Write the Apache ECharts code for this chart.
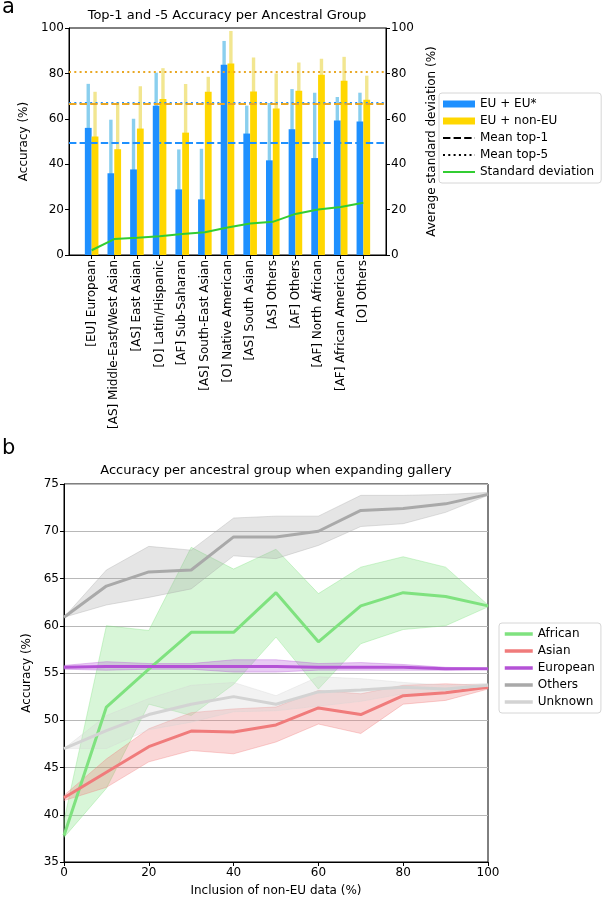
<!DOCTYPE html>
<html>
<head>
<meta charset="utf-8">
<script src="https://cdn.jsdelivr.net/npm/echarts@6/dist/echarts.min.js"></script>
<style>html,body{margin:0;padding:0;background:#fff}#c{width:609px;height:900px}</style>
</head>
<body>
<div id="c"></div>
<script>
// ---------- Panel a data ----------
const categories = ['[EU] European','[AS] Middle-East/West Asian','[AS] East Asian','[O] Latin/Hispanic','[AF] Sub-Saharan','[AS] South-East Asian','[O] Native American','[AS] South Asian','[AS] Others','[AF] Others','[AF] North African','[AF] African American','[O] Others'];
const euTop1 = [56.0, 36.0, 37.7, 65.8, 28.9, 24.5, 83.8, 53.5, 41.7, 55.4, 42.7, 59.2, 58.8];
const euTop5 = [75.4, 59.6, 60.0, 80.3, 46.5, 46.8, 94.3, 65.8, 67.0, 73.1, 71.5, 69.6, 71.5];
const nonEuTop1 = [52.2, 46.6, 55.7, 68.7, 53.9, 71.9, 84.4, 72.0, 64.5, 72.4, 79.4, 76.8, 68.4];
const nonEuTop5 = [71.9, 67.3, 74.3, 82.3, 75.3, 78.5, 98.7, 87.0, 80.0, 84.8, 86.4, 87.3, 79.0];
const stdDev = [2.1, 7.0, 7.6, 8.3, 9.2, 10.0, 12.1, 13.9, 14.6, 18.1, 20.0, 21.1, 23.0];
const meanTop1 = [49.6, 66.6]; // [EU + EU*, EU + non-EU]
const meanTop5 = [67.2, 80.9];

// ---------- Panel b data ----------
const inclusion = [0, 10, 20, 30, 40, 50, 60, 70, 80, 90, 100];
const african   = [37.8, 51.4, 55.4, 59.3, 59.3, 63.5, 58.3, 62.1, 63.5, 63.1, 62.1];
const africanLo = [37.6, 42.8, 51.7, 50.5, 53.8, 58.8, 53.3, 58.1, 59.6, 60.0, 62.0];
const africanHi = [39.4, 60.0, 59.5, 68.3, 66.0, 68.1, 63.4, 66.2, 67.3, 66.2, 62.2];
const asian   = [41.8, 44.5, 47.2, 48.85, 48.75, 49.5, 51.3, 50.6, 52.6, 52.9, 53.5];
const asianLo = [41.5, 42.9, 45.6, 46.8, 46.45, 47.7, 49.6, 48.6, 51.7, 52.1, 53.3];
const asianHi = [42.05, 45.9, 49.1, 50.8, 51.2, 51.4, 53.15, 52.8, 53.7, 53.85, 53.7];
const european   = [55.6, 55.7, 55.7, 55.7, 55.7, 55.7, 55.6, 55.6, 55.6, 55.45, 55.45];
const europeanLo = [55.4, 55.3, 55.4, 55.4, 55.1, 55.1, 55.3, 55.3, 55.3, 55.3, 55.4];
const europeanHi = [55.8, 56.2, 56.0, 56.0, 56.4, 56.4, 56.0, 56.1, 55.9, 55.6, 55.5];
const others   = [60.9, 64.2, 65.7, 65.9, 69.4, 69.4, 70.0, 72.2, 72.4, 72.9, 73.9];
const othersLo = [60.9, 62.2, 63.0, 63.9, 67.4, 67.1, 68.5, 70.5, 70.8, 72.0, 73.8];
const othersHi = [60.9, 65.9, 68.4, 68.0, 71.4, 71.6, 71.6, 73.8, 73.8, 73.9, 74.1];
const unknown   = [47.0, 48.9, 50.6, 51.7, 52.5, 51.7, 53.0, 53.2, 53.5, 53.3, 53.7];
const unknownLo = [47.0, 47.0, 49.0, 49.8, 50.9, 51.0, 51.5, 52.0, 52.8, 52.9, 53.5];
const unknownHi = [47.0, 50.5, 52.3, 53.7, 54.0, 52.6, 54.6, 54.4, 54.0, 53.7, 53.9];

const FONT = 'DejaVu Sans';
const catIdx = categories.map((_, i) => i);

function rgba(hex, a) {
  const n = parseInt(hex.slice(1), 16);
  return 'rgba(' + ((n >> 16) & 255) + ',' + ((n >> 8) & 255) + ',' + (n & 255) + ',' + a + ')';
}

function barRender(side, dark, light) {
  return function (params, api) {
    const x = api.value(0);
    const p1 = api.coord([x, api.value(1)]);
    const p5 = api.coord([x, api.value(2)]);
    const p0 = api.coord([x, 0]);
    const band = api.size([1, 0])[0];
    const wDark = band * 0.3, wLight = band * 0.15;
    const cx = p0[0] + side * band * 0.15;
    return {
      type: 'group',
      children: [
        { type: 'rect', shape: { x: cx - wLight / 2, y: p5[1], width: wLight, height: p0[1] - p5[1] }, style: { fill: light } },
        { type: 'rect', shape: { x: cx - wDark / 2, y: p1[1], width: wDark, height: p0[1] - p1[1] }, style: { fill: dark } }
      ]
    };
  };
}

function bandRender(color) {
  let pts = [];
  return function (params, api) {
    if (params.dataIndexInside === 0) pts = [];
    const x = api.value(0);
    pts.push({ lo: api.coord([x, api.value(1)]), hi: api.coord([x, api.value(2)]) });
    if (params.dataIndexInside !== params.dataInsideLength - 1) return null;
    const poly = pts.map(p => p.hi).concat(pts.map(p => p.lo).reverse());
    return { type: 'polygon', shape: { points: poly },
      style: { fill: rgba(color, 0.3), stroke: rgba(color, 0.35), lineWidth: 1 } };
  };
}

const DASH = [7.4, 3.2], DOT = [2, 3.3];
const ORANGE = '#E9A825', BLUE = '#1E90FF';

const groupsB = [
  ['African', african, africanLo, africanHi, '#7FE27F'],
  ['Asian', asian, asianLo, asianHi, '#F07B7B'],
  ['European', european, europeanLo, europeanHi, '#B452D6'],
  ['Others', others, othersLo, othersHi, '#A9A9A9'],
  ['Unknown', unknown, unknownLo, unknownHi, '#D3D3D3']
];
const seriesB = [];
groupsB.forEach(g => {
  seriesB.push({ type: 'custom', name: g[0] + ' band', xAxisIndex: 1, yAxisIndex: 2, silent: true,
    renderItem: bandRender(g[4]), encode: { x: 0, y: [1, 2] },
    data: inclusion.map((x, i) => [x, g[2][i], g[3][i]]) });
  seriesB.push({ type: 'line', name: g[0], xAxisIndex: 1, yAxisIndex: 2, symbol: 'none',
    data: inclusion.map((x, i) => [x, g[1][i]]), lineStyle: { width: 3, color: g[4] }, itemStyle: { color: g[4] } });
});

const axisCommon = {
  axisLine: { show: true, onZero: false, lineStyle: { color: '#000', width: 1 } },
  axisTick: { show: true, inside: false, length: 4, lineStyle: { color: '#000' } },
  axisLabel: { color: '#000', fontSize: 12, fontFamily: FONT, margin: 5 },
  nameTextStyle: { color: '#000', fontSize: 12, fontFamily: FONT }
};
const noSym = { opacity: 0 };

const option = {
  animation: false,
  backgroundColor: '#fff',
  textStyle: { fontFamily: FONT },
  title: [
    { text: 'a', left: 2, top: -3, padding: 0, textStyle: { fontSize: 21, fontWeight: 'normal', color: '#000', fontFamily: FONT } },
    { text: 'Top-1 and -5 Accuracy per Ancestral Group', left: 227, textAlign: 'center', top: 9, padding: 0,
      textStyle: { fontSize: 13, fontWeight: 'normal', color: '#000', fontFamily: FONT } },
    { text: 'b', left: 2, top: 438, padding: 0, textStyle: { fontSize: 21, fontWeight: 'normal', color: '#000', fontFamily: FONT } },
    { text: 'Accuracy per ancestral group when expanding gallery', left: 276, textAlign: 'center', top: 464, padding: 0,
      textStyle: { fontSize: 13, fontWeight: 'normal', color: '#000', fontFamily: FONT } }
  ],
  legend: [
    { orient: 'vertical', left: 439, top: 93, itemWidth: 32, itemHeight: 7, itemGap: 5,
      padding: [5, 7, 5, 3], borderColor: '#d6d6d6', borderWidth: 1, borderRadius: 3, backgroundColor: '#fff',
      textStyle: { fontSize: 12, color: '#000', fontFamily: FONT },
      data: [{ name: 'EU + EU*', icon: 'rect' }, { name: 'EU + non-EU', icon: 'rect' },
             { name: 'Mean top-1', itemStyle: noSym }, { name: 'Mean top-5', itemStyle: noSym },
             { name: 'Standard deviation', itemStyle: noSym }] },
    { orient: 'vertical', left: 499, top: 623, itemWidth: 28, itemHeight: 10, itemGap: 5,
      padding: [5, 6, 5, 4], borderColor: '#d6d6d6', borderWidth: 1, borderRadius: 3, backgroundColor: '#fff',
      textStyle: { fontSize: 12, color: '#000', fontFamily: FONT },
      lineStyle: { width: 3.5 },
      data: groupsB.map(g => ({ name: g[0], itemStyle: noSym })) }
  ],
  grid: [
    { left: 69, width: 317, top: 28, height: 227, show: true, borderColor: '#000', borderWidth: 1, backgroundColor: 'transparent' },
    { left: 64, width: 424, top: 484, height: 378, show: true, borderColor: '#000', borderWidth: 1, backgroundColor: 'transparent' }
  ],
  xAxis: [
    Object.assign({}, axisCommon, {
      type: 'value', gridIndex: 0, min: -1, max: 13, splitLine: { show: false },
      axisTick: Object.assign({}, axisCommon.axisTick, { customValues: catIdx }),
      axisLabel: Object.assign({}, axisCommon.axisLabel, { rotate: 90, customValues: catIdx, formatter: v => categories[Math.round(v)] || '' })
    }),
    Object.assign({}, axisCommon, {
      type: 'value', gridIndex: 1, min: 0, max: 100, interval: 20, splitLine: { show: false },
      name: 'Inclusion of non-EU data (%)', nameLocation: 'middle', nameGap: 23
    })
  ],
  yAxis: [
    Object.assign({}, axisCommon, {
      type: 'value', gridIndex: 0, min: 0, max: 100, interval: 20, splitLine: { show: false },
      name: 'Accuracy (%)', nameLocation: 'middle', nameGap: 38
    }),
    Object.assign({}, axisCommon, {
      type: 'value', gridIndex: 0, position: 'right', min: 0, max: 100, interval: 20, splitLine: { show: false },
      name: 'Average standard deviation (%)', nameLocation: 'middle', nameGap: 40, nameRotate: 90
    }),
    Object.assign({}, axisCommon, {
      type: 'value', gridIndex: 1, min: 35, max: 75, interval: 5,
      splitLine: { show: true, lineStyle: { color: '#b8b8b8', width: 1.2 } },
      name: 'Accuracy (%)', nameLocation: 'middle', nameGap: 30
    })
  ],
  series: [
    { type: 'custom', name: 'EU + EU*', xAxisIndex: 0, yAxisIndex: 0, itemStyle: { color: BLUE },
      renderItem: barRender(-1, BLUE, '#8ACFEE'), encode: { x: 0, y: [1, 2] },
      data: catIdx.map(i => [i, euTop1[i], euTop5[i]]),
      markLine: { silent: true, symbol: ['none', 'none'], label: { show: false },
        data: [ { yAxis: meanTop1[0], lineStyle: { color: BLUE, type: DASH, width: 2 } },
                { yAxis: meanTop5[0], lineStyle: { color: BLUE, type: DOT, width: 2 } } ] } },
    { type: 'custom', name: 'EU + non-EU', xAxisIndex: 0, yAxisIndex: 0, itemStyle: { color: '#FFD700' },
      renderItem: barRender(1, '#FFD700', '#F2E690'), encode: { x: 0, y: [1, 2] },
      data: catIdx.map(i => [i, nonEuTop1[i], nonEuTop5[i]]),
      markLine: { silent: true, symbol: ['none', 'none'], label: { show: false },
        data: [ { yAxis: meanTop1[1], lineStyle: { color: ORANGE, type: DASH, width: 2 } },
                { yAxis: meanTop5[1], lineStyle: { color: ORANGE, type: DOT, width: 2 } } ] } },
    { type: 'line', name: 'Mean top-1', xAxisIndex: 0, yAxisIndex: 0, symbol: 'none', data: [],
      lineStyle: { color: '#000', type: DASH, width: 2 }, itemStyle: { color: '#000' } },
    { type: 'line', name: 'Mean top-5', xAxisIndex: 0, yAxisIndex: 0, symbol: 'none', data: [],
      lineStyle: { color: '#000', type: DOT, width: 2 }, itemStyle: { color: '#000' } },
    { type: 'line', name: 'Standard deviation', xAxisIndex: 0, yAxisIndex: 1, symbol: 'none', z: 5,
      data: catIdx.map(i => [i, stdDev[i]]), lineStyle: { color: '#32CD32', width: 2 }, itemStyle: { color: '#32CD32' } }
  ].concat(seriesB)
};

const chart = echarts.init(document.getElementById('c'), null, { renderer: 'canvas' });
chart.setOption(option);
</script>
</body>
</html>
